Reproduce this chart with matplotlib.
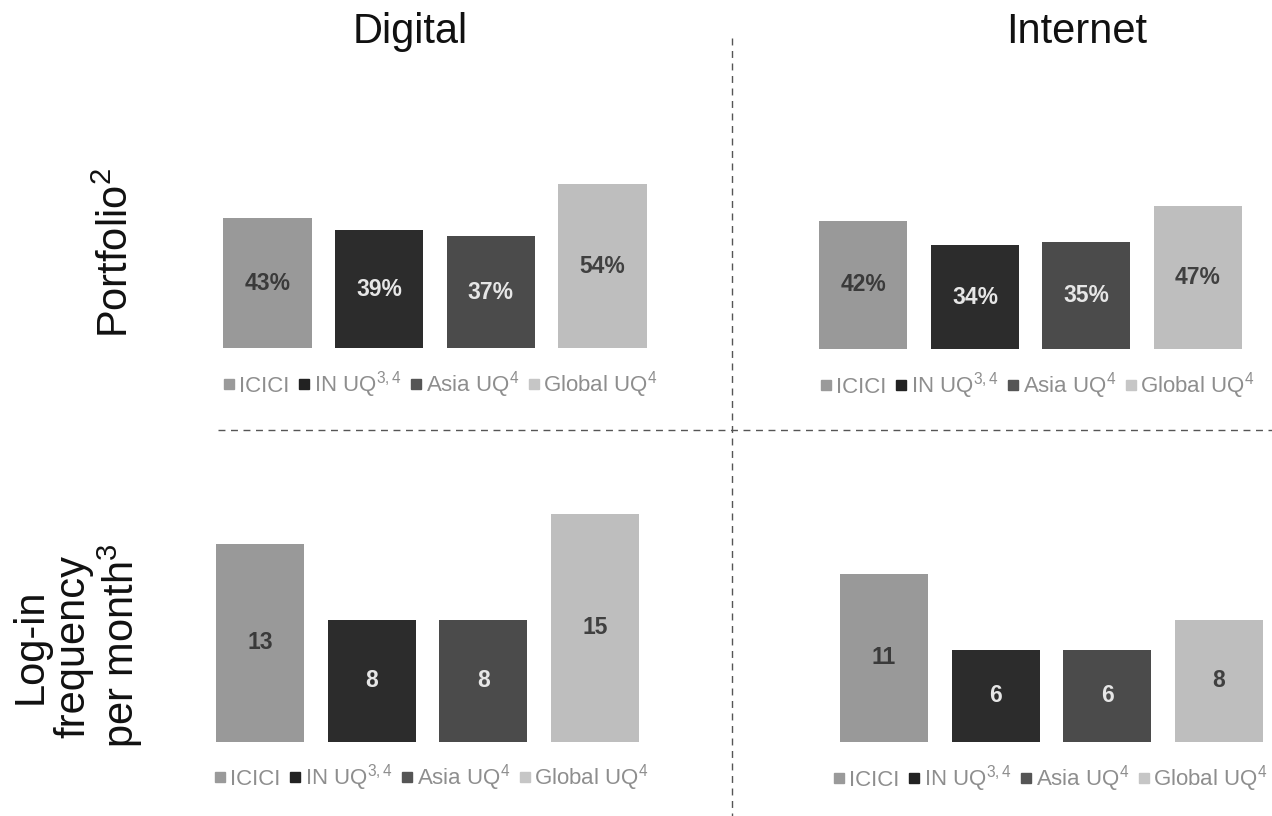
import matplotlib
matplotlib.use("Agg")
import matplotlib.pyplot as plt
from matplotlib.lines import Line2D

plt.rcParams['font.family'] = ['Liberation Sans', 'DejaVu Sans']
plt.rcParams['mathtext.fontset'] = 'custom'
plt.rcParams['mathtext.rm'] = 'Liberation Sans'
plt.rcParams['mathtext.it'] = 'Liberation Sans:italic'
plt.rcParams['mathtext.bf'] = 'Liberation Sans:bold'

# ---------------- data ----------------
categories = ["ICICI", "IN UQ", "Asia UQ", "Global UQ"]
legend_labels = ["ICICI", "IN UQ$^{3,4}$", "Asia UQ$^{4}$", "Global UQ$^{4}$"]
col_titles = ["Digital", "Internet"]
row_titles = ["Portfolio$^{2}$", "Log-in\nfrequency\nper month$^{3}$"]

portfolio_digital = [43, 39, 37, 54]
portfolio_internet = [42, 34, 35, 47]
login_digital = [13, 8, 8, 15]
login_internet = [11, 6, 6, 8]

bar_colors = ["#999999", "#2c2c2c", "#4b4b4b", "#bebebe"]
label_colors = ["#3a3a3a", "#e6e6e6", "#e6e6e6", "#404040"]
marker_colors = ["#9a9a9a", "#222222", "#555555", "#c6c6c6"]

# ---------------- layout ----------------
W, H = 1272, 816
fig = plt.figure(figsize=(W / 100, H / 100), dpi=100)
fig.patch.set_facecolor("white")


def add_ax(left, right, bottom, ymax, px_per_unit):
    top = bottom - ymax * px_per_unit
    return fig.add_axes([left / W, 1 - bottom / H, (right - left) / W, (bottom - top) / H])


panels = [
    # values, fmt, (left, right, bottom, ymax, px/unit), legend center (x, y)
    (portfolio_digital, "{}%", (211.7, 658.3, 348.5, 60, 3.04), (441, 385)),
    (portfolio_internet, "{}%", (807.7, 1253.7, 349, 60, 3.05), (1038, 386)),
    (login_digital, "{}", (204.7, 650.7, 741.5, 16, 15.2), (432, 778)),
    (login_internet, "{}", (828.2, 1274.8, 741.5, 16, 15.2), (1051, 779)),
]

handles = [Line2D([], [], linestyle="none", marker="s", markersize=6.5,
                  markerfacecolor=c, markeredgecolor=c) for c in marker_colors]

for vals, fmt, (l, r, b, ymax, ppu), (lx, ly) in panels:
    ax = add_ax(l, r, b, ymax, ppu)
    x = list(range(len(categories)))
    ax.bar(x, vals, width=0.79, color=bar_colors)
    for xi, v, lc in zip(x, vals, label_colors):
        ax.text(xi, v / 2, fmt.format(v), ha="center", va="center",
                fontsize=16.5, fontweight="bold", color=lc)
    ax.set_xlim(-0.5, 3.5)
    ax.set_ylim(0, ymax)
    ax.axis("off")
    ax.legend(handles, legend_labels, loc="center",
              bbox_to_anchor=(lx / W, 1 - ly / H), bbox_transform=fig.transFigure,
              ncol=4, frameon=False, fontsize=16, labelcolor="#8e8e8e",
              handlelength=0.45, handletextpad=0.2, columnspacing=0.45,
              borderpad=0, borderaxespad=0)

# column titles
fig.text(410 / W, 1 - 32 / H, col_titles[0], ha="center", va="center", fontsize=30, color="#111111")
fig.text(1077 / W, 1 - 32 / H, col_titles[1], ha="center", va="center", fontsize=30, color="#111111")

# row titles
fig.text(117 / W, 1 - 253 / H, row_titles[0], ha="center", va="center", rotation=90,
         fontsize=30, color="#111111")
fig.text(78 / W, 1 - 646 / H, row_titles[1], ha="center", va="center", rotation=90,
         fontsize=30, color="#111111", multialignment="center", linespacing=1.08)

# dashed separators
fig.add_artist(Line2D([732 / W, 732 / W], [1 - 38 / H, 0], transform=fig.transFigure,
                      color="#555555", linewidth=1.0, linestyle=(0, (5, 4))))
fig.add_artist(Line2D([218 / W, 1.0], [1 - 430 / H, 1 - 430 / H], transform=fig.transFigure,
                      color="#555555", linewidth=1.0, linestyle=(0, (5, 4))))

fig.savefig("out.png", dpi=100, facecolor="white")
